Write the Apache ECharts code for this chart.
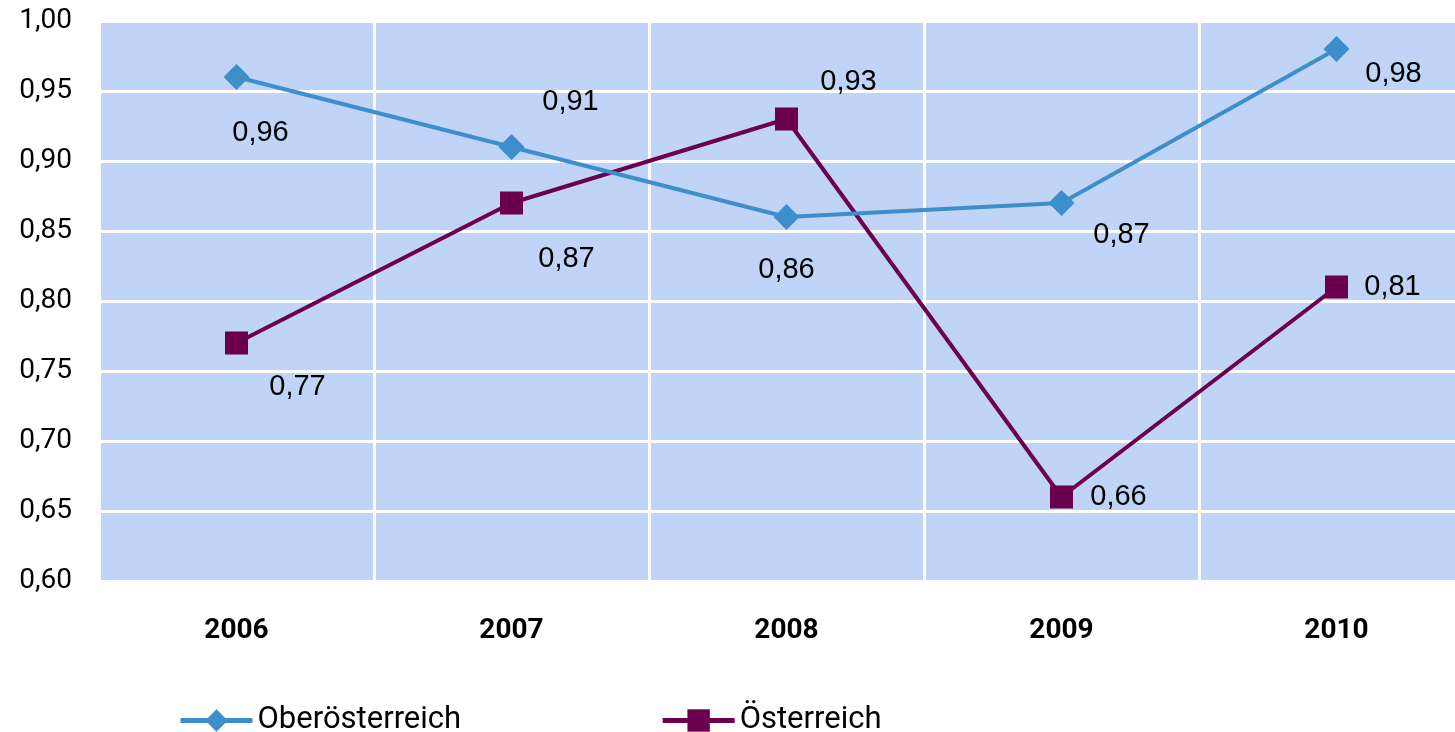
<!DOCTYPE html>
<html>
<head>
<meta charset="utf-8">
<script src="https://cdn.jsdelivr.net/npm/echarts@6/dist/echarts.min.js"></script>
<style>
    html, body { margin: 0; padding: 0; background: #fff; }
    #lineChart { width: 1455px; height: 732px; }
</style>
</head>
<body>
<div id="lineChart"></div>
<script>
    // Daten
    const years = ['2006', '2007', '2008', '2009', '2010']
    const oberoesterreich = [0.96, 0.91, 0.86, 0.87, 0.98]
    const oesterreich = [0.77, 0.87, 0.93, 0.66, 0.81]

    // Label-Versatz (Pixel) je Punkt
    const offsetOber = [[24, 56], [59, -45], [0, 53], [60, 32], [57, 25]]
    const offsetOest = [[61, 44], [55, 56], [62, -37], [57, 0], [56, 0]]

    const comma = v => v.toFixed(2).replace('.', ',')

    function makeData(values, offsets) {
        return values.map((v, i) => ({
            value: v,
            label: { offset: offsets[i] }
        }))
    }

    const labelStyle = {
        show: true,
        position: 'inside',
        align: 'center',
        verticalAlign: 'middle',
        color: '#000',
        fontFamily: 'Liberation Sans',
        fontSize: 29,
        formatter: p => comma(p.value)
    }

    let myChart = echarts.init(document.getElementById('lineChart'))
    myChart.setOption({
        animation: false,
        grid: {
            left: 99,
            top: 21,
            width: 1375,
            height: 560,
            outerBoundsMode: 'none',
            show: true,
            backgroundColor: '#C0D4F8',
            borderWidth: 0
        },
        legend: {
            left: 173,
            top: 700,
            itemWidth: 72,
            itemHeight: 28,
            itemGap: 199,
            lineStyle: { width: 5 },
            textStyle: {
                color: '#000',
                fontFamily: 'Roboto',
                fontSize: 31
            },
            data: ['Oberösterreich', 'Österreich']
        },
        xAxis: {
            type: 'category',
            data: years,
            boundaryGap: true,
            axisLine: { show: false },
            axisTick: { show: false },
            axisLabel: {
                margin: 36,
                color: '#000',
                fontFamily: 'Roboto',
                fontWeight: 'bold',
                fontSize: 28
            },
            splitLine: {
                show: true,
                lineStyle: { color: '#fff', width: 3 }
            }
        },
        yAxis: {
            type: 'value',
            min: 0.6,
            max: 1.0,
            interval: 0.05,
            axisLine: { show: false },
            axisTick: { show: false },
            axisLabel: {
                margin: 27,
                color: '#000',
                fontFamily: 'Roboto',
                fontSize: 28,
                formatter: v => comma(v)
            },
            splitLine: {
                show: true,
                lineStyle: { color: '#fff', width: 3 }
            }
        },
        series: [
            {
                name: 'Oberösterreich',
                type: 'line',
                data: makeData(oberoesterreich, offsetOber),
                symbol: 'diamond',
                symbolSize: 26,
                lineStyle: { color: '#3D8FCC', width: 4 },
                itemStyle: { color: '#3D8FCC' },
                label: labelStyle,
                z: 3
            },
            {
                name: 'Österreich',
                type: 'line',
                data: makeData(oesterreich, offsetOest),
                symbol: 'rect',
                symbolSize: 23,
                lineStyle: { color: '#6B004F', width: 4 },
                itemStyle: { color: '#6B004F' },
                label: labelStyle,
                z: 2
            }
        ]
    })
</script>
</body>
</html>
